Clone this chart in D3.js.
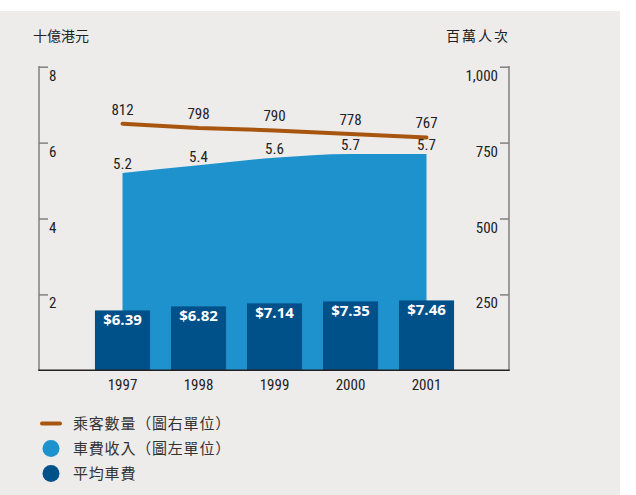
<!DOCTYPE html>
<html><head><meta charset="utf-8">
<script src="https://cdn.jsdelivr.net/npm/d3@7"></script>
<style>
html,body{margin:0;padding:0;background:#fff;}
svg{display:block;}
.num{font-family:"Liberation Sans Narrow","Roboto Condensed","DejaVu Sans Condensed",sans-serif;}
.cjk{font-family:"Noto Sans CJK TC","Noto Sans CJK SC",sans-serif;}
</style>
</head><body>
<svg id="c" width="636" height="495"></svg>
<script>
const years = ["1997","1998","1999","2000","2001"];
const passengers = [812, 798, 790, 778, 767];       // 百萬人次 (right axis)
const revenue = [5.2, 5.4, 5.6, 5.7, 5.7];          // 十億港元 (left axis)
const avgFare = [6.39, 6.82, 7.14, 7.35, 7.46];     // 平均車費
const leftTicks = [2, 4, 6, 8];
const rightTicks = [250, 500, 750, 1000];
const legendItems = [
  {label: "乘客數量（圖右單位）", type: "line"},
  {label: "車費收入（圖左單位）", type: "area"},
  {label: "平均車費", type: "bar"}
];

const colors = {line: "#a8560f", area: "#1e92cd", bar: "#00508a", bg: "#edeceb", axis: "#808080", text: "#222"};

const svg = d3.select("#c");
svg.append("rect").attr("x",0).attr("y",11).attr("width",620).attr("height",484).attr("fill",colors.bg);

const plot = {left: 39, right: 509, top: 66.7, bottom: 370.3};

const x = d3.scaleBand().domain(years).range([84.5, 464.5]).paddingInner(0.275).paddingOuter(0.1375);
const yL = d3.scaleLinear().domain([0, 8]).range([plot.bottom, plot.top]);
const yR = d3.scaleLinear().domain([0, 1000]).range([plot.bottom, plot.top]);
const yF = d3.scaleLinear().domain([0, 32.4]).range([plot.bottom, plot.top]);
const cx = d => x(d) + x.bandwidth()/2;

// Revenue area
const areaGen = d3.area()
  .x((d,i) => cx(years[i]))
  .y0(plot.bottom)
  .y1(d => yL(d))
  .curve(d3.curveMonotoneX);
svg.append("path").datum(revenue).attr("d", areaGen).attr("fill", colors.area);

// Fare bars
svg.selectAll("rect.bar").data(avgFare).enter().append("rect")
  .attr("class","bar")
  .attr("x",(d,i)=>x(years[i]))
  .attr("width",x.bandwidth())
  .attr("y",d=>yF(d))
  .attr("height",d=>plot.bottom - yF(d))
  .attr("fill",colors.bar);

svg.selectAll("text.fare").data(avgFare).enter().append("text")
  .attr("class","fare")
  .attr("x",(d,i)=>cx(years[i]))
  .attr("y",d=>yF(d)+14.5)
  .attr("text-anchor","middle")
  .attr("fill","#fff")
  .attr("font-family","'Open Sans','Liberation Sans',sans-serif")
  .attr("font-weight","bold")
  .attr("font-size",15)
  .text(d=>"$"+d.toFixed(2));

// Left axis
const leftAxis = d3.axisRight(yL).tickValues(leftTicks).tickSize(9).tickFormat(d3.format("d"));
const gL = svg.append("g").attr("transform",`translate(${plot.left},0)`).call(leftAxis);
gL.select(".domain").remove();
gL.selectAll(".tick line").attr("stroke",colors.axis).attr("stroke-width",1.5);
gL.selectAll(".tick text").attr("class","num").attr("x",10).attr("dy","0.9em")
  .attr("font-size",15).attr("fill",colors.text);
svg.append("line").attr("x1",plot.left).attr("x2",plot.left).attr("y1",yL(8)-0.75).attr("y2",plot.bottom)
  .attr("stroke",colors.axis).attr("stroke-width",1.5);

// Right axis
const rightAxis = d3.axisLeft(yR).tickValues(rightTicks).tickSize(9).tickFormat(d3.format(","));
const gR = svg.append("g").attr("transform",`translate(${plot.right},0)`).call(rightAxis);
gR.select(".domain").remove();
gR.selectAll(".tick line").attr("stroke",colors.axis).attr("stroke-width",1.5);
gR.selectAll(".tick text").attr("class","num").attr("x",-11).attr("dy","0.9em")
  .attr("font-size",15).attr("fill",colors.text);
svg.append("line").attr("x1",plot.right).attr("x2",plot.right).attr("y1",yR(1000)-0.75).attr("y2",plot.bottom)
  .attr("stroke",colors.axis).attr("stroke-width",1.5);

// Bottom axis
const bottomAxis = d3.axisBottom(x).tickSize(0);
const gB = svg.append("g").attr("transform",`translate(0,${plot.bottom})`).call(bottomAxis);
gB.select(".domain").remove();
gB.selectAll(".tick text").attr("class","num").attr("y",9).attr("dy","0.71em")
  .attr("font-size",15).attr("fill",colors.text);
svg.append("line").attr("x1",plot.left-0.75).attr("x2",plot.right+0.75).attr("y1",plot.bottom).attr("y2",plot.bottom)
  .attr("stroke","#222").attr("stroke-width",1.5);

// Passenger line
const lineGen = d3.line().x((d,i)=>cx(years[i])).y(d=>yR(d));
svg.append("path").datum(passengers).attr("d",lineGen).attr("fill","none")
  .attr("stroke",colors.line).attr("stroke-width",4).attr("stroke-linecap","round");

svg.selectAll("text.pl").data(passengers).enter().append("text")
  .attr("class","num").attr("x",(d,i)=>cx(years[i])).attr("y",d=>yR(d)-9)
  .attr("text-anchor","middle").attr("font-size",15).attr("fill",colors.text).text(d=>d);

svg.selectAll("text.rl").data(revenue).enter().append("text")
  .attr("class","num").attr("x",(d,i)=>cx(years[i])).attr("y",d=>yL(d)-3.5)
  .attr("text-anchor","middle").attr("font-size",15).attr("fill",colors.text).text(d=>d.toFixed(1));

// Axis titles
svg.append("text").attr("class","cjk").attr("x",33).attr("y",41).attr("font-size",14).attr("fill",colors.text)
  .text("十億港元");
svg.append("text").attr("class","cjk").attr("x",510).attr("y",41).attr("font-size",14).attr("fill",colors.text)
  .attr("text-anchor","end").attr("letter-spacing",2).text("百萬人次");

// Legend
const lg = svg.append("g");
legendItems.forEach((it,i)=>{
  const yy = 423.5 + i*25;
  if (it.type==="line") {
    lg.append("line").attr("x1",42).attr("x2",60).attr("y1",yy).attr("y2",yy)
      .attr("stroke",colors.line).attr("stroke-width",4).attr("stroke-linecap","round");
  } else {
    lg.append("circle").attr("cx",51).attr("cy",yy).attr("r",8.5)
      .attr("fill", it.type==="area"?colors.area:colors.bar);
  }
  lg.append("text").attr("class","cjk").attr("x",73).attr("y",yy+5.5).attr("font-size",15)
    .attr("fill","#333").attr("letter-spacing",0.8).text(it.label);
});
</script>
</body></html>
